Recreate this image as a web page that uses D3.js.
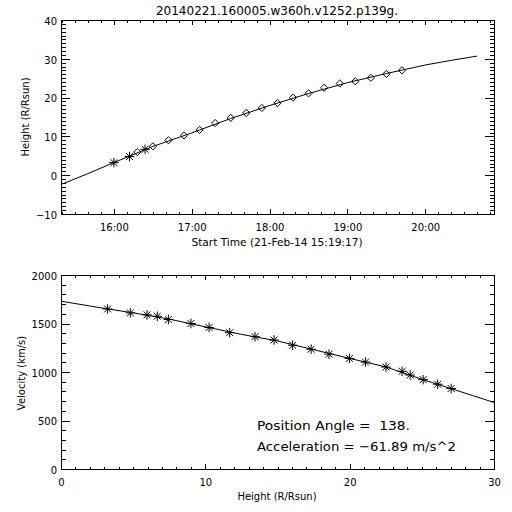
<!DOCTYPE html>
<html>
<head>
<meta charset="utf-8">
<script src="https://cdn.jsdelivr.net/npm/d3@7"></script>
<style>
  html, body { margin: 0; padding: 0; background: #fff; }
  svg { display: block; }
  text { font-family: "DejaVu Sans", sans-serif; fill: #000; }
</style>
</head>
<body>
<svg id="chart" width="512" height="512"></svg>
<script>
// ---------- data ----------
const titleText = "20140221.160005.w360h.v1252.p139g.";
const startTime = "2014-02-21T15:19:17";
const endTime = "2014-02-21T20:53:00";

// observation times (UTC), instrument and measured heights (R/Rsun)
const obsTimes = ["16:00:05","16:12:05","16:18:05","16:24:05","16:30:05","16:42:05","16:54:05",
  "17:06:05","17:18:05","17:30:05","17:42:05","17:54:05","18:06:05","18:18:05","18:30:05",
  "18:42:05","18:54:05","19:06:05","19:18:05","19:30:05","19:42:05"];
const instruments = ["C2","C2","C3","C2","C3","C3","C3","C3","C3","C3","C3","C3","C3","C3","C3",
  "C3","C3","C3","C3","C3","C3"];
const heights = [3.23,4.80,5.96,6.67,7.44,9.00,10.26,11.69,13.44,14.76,16.05,17.33,18.57,19.98,
  21.10,22.52,23.63,24.19,25.09,26.10,27.03];
// velocities at those heights (km/s)
const velocities = [1650,1609,1589,1575,1541,1500,1459,1405,1364,1330,1276,1235,1184,1140,
  1102,1051,1007,969,921,874,830];

// fitted height-time curve
const fitTimes = ["15:19:17","15:40:00","16:00:00","16:30:00","17:00:00","17:30:00","18:00:00",
  "18:30:00","19:00:00","19:30:00","20:00:00","20:20:00","20:40:00"];
const fitHeights = [-2.4,0.4,3.25,7.4,10.9,14.6,17.95,21.05,23.85,26.2,28.4,29.6,30.7];

// fitted velocity-height curve
const fitVelH = [0,3.23,5,7.5,10,12.5,15,17.5,20,22.5,25,27,28.5,30];
const fitVel = [1730,1650,1610,1545,1466,1388,1320,1230,1140,1053,925,830,758,686];

// tick values
const topYTicks = [-10,0,10,20,30,40];
const botYTicks = [0,500,1000,1500,2000];
const botXTicks = [0,10,20,30];

const annotation1 = "Position Angle =  138.";
const annotation2 = "Acceleration = \u221261.89 m/s^2";

// ---------- drawing ----------
const svg = d3.select("#chart");
svg.append("rect").attr("width", 512).attr("height", 512).attr("fill", "#fff");

const parseT = d3.utcParse("%Y-%m-%dT%H:%M:%S");
const day = "2014-02-21T";

const pTop = {l: 61, r: 494, t: 20, b: 214};
const pBot = {l: 61, r: 494, t: 275, b: 469};

const xT = d3.scaleUtc().domain([parseT(startTime), parseT(endTime)]).range([pTop.l, pTop.r]);
const yT = d3.scaleLinear().domain([-10, 40]).range([pTop.b, pTop.t]);
const xB = d3.scaleLinear().domain([0, 30]).range([pBot.l, pBot.r]);
const yB = d3.scaleLinear().domain([0, 2000]).range([pBot.b, pBot.t]);

function styleAxis(g) {
  g.selectAll("path.domain").attr("stroke", "#000").attr("stroke-width", 1).attr("shape-rendering", "crispEdges");
  g.selectAll(".tick line").attr("stroke", "#000").attr("stroke-width", 1).attr("shape-rendering", "crispEdges");
  g.selectAll(".tick text").attr("font-family", "DejaVu Sans, sans-serif").attr("font-size", 10).attr("fill", "#000");
}

function box(p, x, y, opts) {
  const g = svg.append("g");
  // bottom axis with labels
  const bx = g.append("g").attr("transform", `translate(0,${p.b})`)
    .call(d3.axisBottom(x).tickValues(opts.xMajor).tickFormat(opts.xFormat)
      .tickSize(-opts.xMaj).tickSizeOuter(0).tickPadding(9.5));
  styleAxis(bx);
  const bxm = g.append("g").attr("transform", `translate(0,${p.b})`)
    .call(d3.axisBottom(x).tickValues(opts.xMinor).tickFormat("").tickSize(-opts.xMin).tickSizeOuter(0));
  styleAxis(bxm);
  // top axis
  const tx = g.append("g").attr("transform", `translate(0,${p.t})`)
    .call(d3.axisTop(x).tickValues(opts.xMajor).tickFormat("").tickSize(-opts.xMaj).tickSizeOuter(0));
  styleAxis(tx);
  const txm = g.append("g").attr("transform", `translate(0,${p.t})`)
    .call(d3.axisTop(x).tickValues(opts.xMinor).tickFormat("").tickSize(-opts.xMin).tickSizeOuter(0));
  styleAxis(txm);
  // left axis with labels
  const ly = g.append("g").attr("transform", `translate(${p.l},0)`)
    .call(d3.axisLeft(y).tickValues(opts.yMajor).tickFormat(opts.yFormat)
      .tickSize(-opts.yMaj).tickSizeOuter(0).tickPadding(4));
  styleAxis(ly);
  ly.selectAll(".tick text").attr("dy", "0.42em");
  const lym = g.append("g").attr("transform", `translate(${p.l},0)`)
    .call(d3.axisLeft(y).tickValues(opts.yMinor).tickFormat("").tickSize(-opts.yMin).tickSizeOuter(0));
  styleAxis(lym);
  // right axis
  const ry = g.append("g").attr("transform", `translate(${p.r},0)`)
    .call(d3.axisRight(y).tickValues(opts.yMajor).tickFormat("").tickSize(-opts.yMaj).tickSizeOuter(0));
  styleAxis(ry);
  const rym = g.append("g").attr("transform", `translate(${p.r},0)`)
    .call(d3.axisRight(y).tickValues(opts.yMinor).tickFormat("").tickSize(-opts.yMin).tickSizeOuter(0));
  styleAxis(rym);
}

// top panel axes
box(pTop, xT, yT, {
  xMajor: d3.utcHour.range(parseT(day + "16:00:00"), parseT(endTime)),
  xMinor: d3.utcMinute.every(10).range(parseT(day + "15:20:00"), parseT(endTime)),
  xFormat: d3.utcFormat("%H:%M"),
  yMajor: topYTicks,
  yMinor: d3.range(-10, 41, 1),
  yFormat: d3.format("d"),
  xMaj: 5, xMin: 2.5, yMaj: 9, yMin: 4.5
});

// bottom panel axes
box(pBot, xB, yB, {
  xMajor: botXTicks,
  xMinor: d3.range(0, 31, 1),
  xFormat: d3.format("d"),
  yMajor: botYTicks,
  yMinor: d3.range(0, 2001, 100),
  yFormat: d3.format("d"),
  xMaj: 5, xMin: 2.5, yMaj: 9, yMin: 4.5
});

// fit lines
const topLine = d3.line()
  .x((d, i) => xT(parseT(day + fitTimes[i])))
  .y((d) => yT(d));
svg.append("path").datum(fitHeights).attr("d", topLine)
  .attr("fill", "none").attr("stroke", "#000").attr("stroke-width", 1);

const botLine = d3.line()
  .x((d, i) => xB(fitVelH[i]))
  .y((d) => yB(d));
svg.append("path").datum(fitVel).attr("d", botLine)
  .attr("fill", "none").attr("stroke", "#000").attr("stroke-width", 1);

// markers
function asterisk(r) {
  const d = r * 0.72;
  return `M${-r},0L${r},0M0,${-r}L0,${r}M${-d},${-d}L${d},${d}M${-d},${d}L${d},${-d}`;
}
function diamond(r) {
  return `M0,${-r}L${r},0L0,${r}L${-r},0Z`;
}

const ptsTop = obsTimes.map((t, i) => ({t: parseT(day + t), h: heights[i], inst: instruments[i]}));
svg.append("g").selectAll("path").data(ptsTop).join("path")
  .attr("transform", d => `translate(${xT(d.t)},${yT(d.h)})`)
  .attr("d", d => d.inst === "C2" ? asterisk(4.8) : diamond(3.6))
  .attr("fill", "none").attr("stroke", "#000").attr("stroke-width", 1);

const ptsBot = heights.map((h, i) => ({h: h, v: velocities[i]}));
svg.append("g").selectAll("path").data(ptsBot).join("path")
  .attr("transform", d => `translate(${xB(d.h)},${yB(d.v)})`)
  .attr("d", asterisk(4.8))
  .attr("fill", "none").attr("stroke", "#000").attr("stroke-width", 1);

// texts
svg.append("text").attr("x", 277).attr("y", 15).attr("text-anchor", "middle")
  .attr("font-size", 12).text(titleText);

svg.append("text").attr("x", 277).attr("y", 245.5).attr("text-anchor", "middle")
  .attr("font-size", 10.6).text("Start Time (21-Feb-14 15:19:17)");

svg.append("text").attr("transform", "translate(28.5,117) rotate(-90)").attr("text-anchor", "middle")
  .attr("font-size", 10).text("Height (R/Rsun)");

svg.append("text").attr("transform", "translate(24.5,373) rotate(-90)").attr("text-anchor", "middle")
  .attr("font-size", 10).text("Velocity (km/s)");

svg.append("text").attr("x", 277).attr("y", 499.5).attr("text-anchor", "middle")
  .attr("font-size", 10).text("Height (R/Rsun)");

svg.append("text").attr("x", 257).attr("y", 429.5).attr("font-size", 13)
  .style("white-space", "pre").attr("xml:space", "preserve")
  .attr("textLength", 153).attr("lengthAdjust", "spacingAndGlyphs").text(annotation1);
svg.append("text").attr("x", 257).attr("y", 450.5).attr("font-size", 13)
  .style("white-space", "pre").attr("xml:space", "preserve")
  .attr("textLength", 199).attr("lengthAdjust", "spacingAndGlyphs").text(annotation2);
</script>
</body>
</html>
